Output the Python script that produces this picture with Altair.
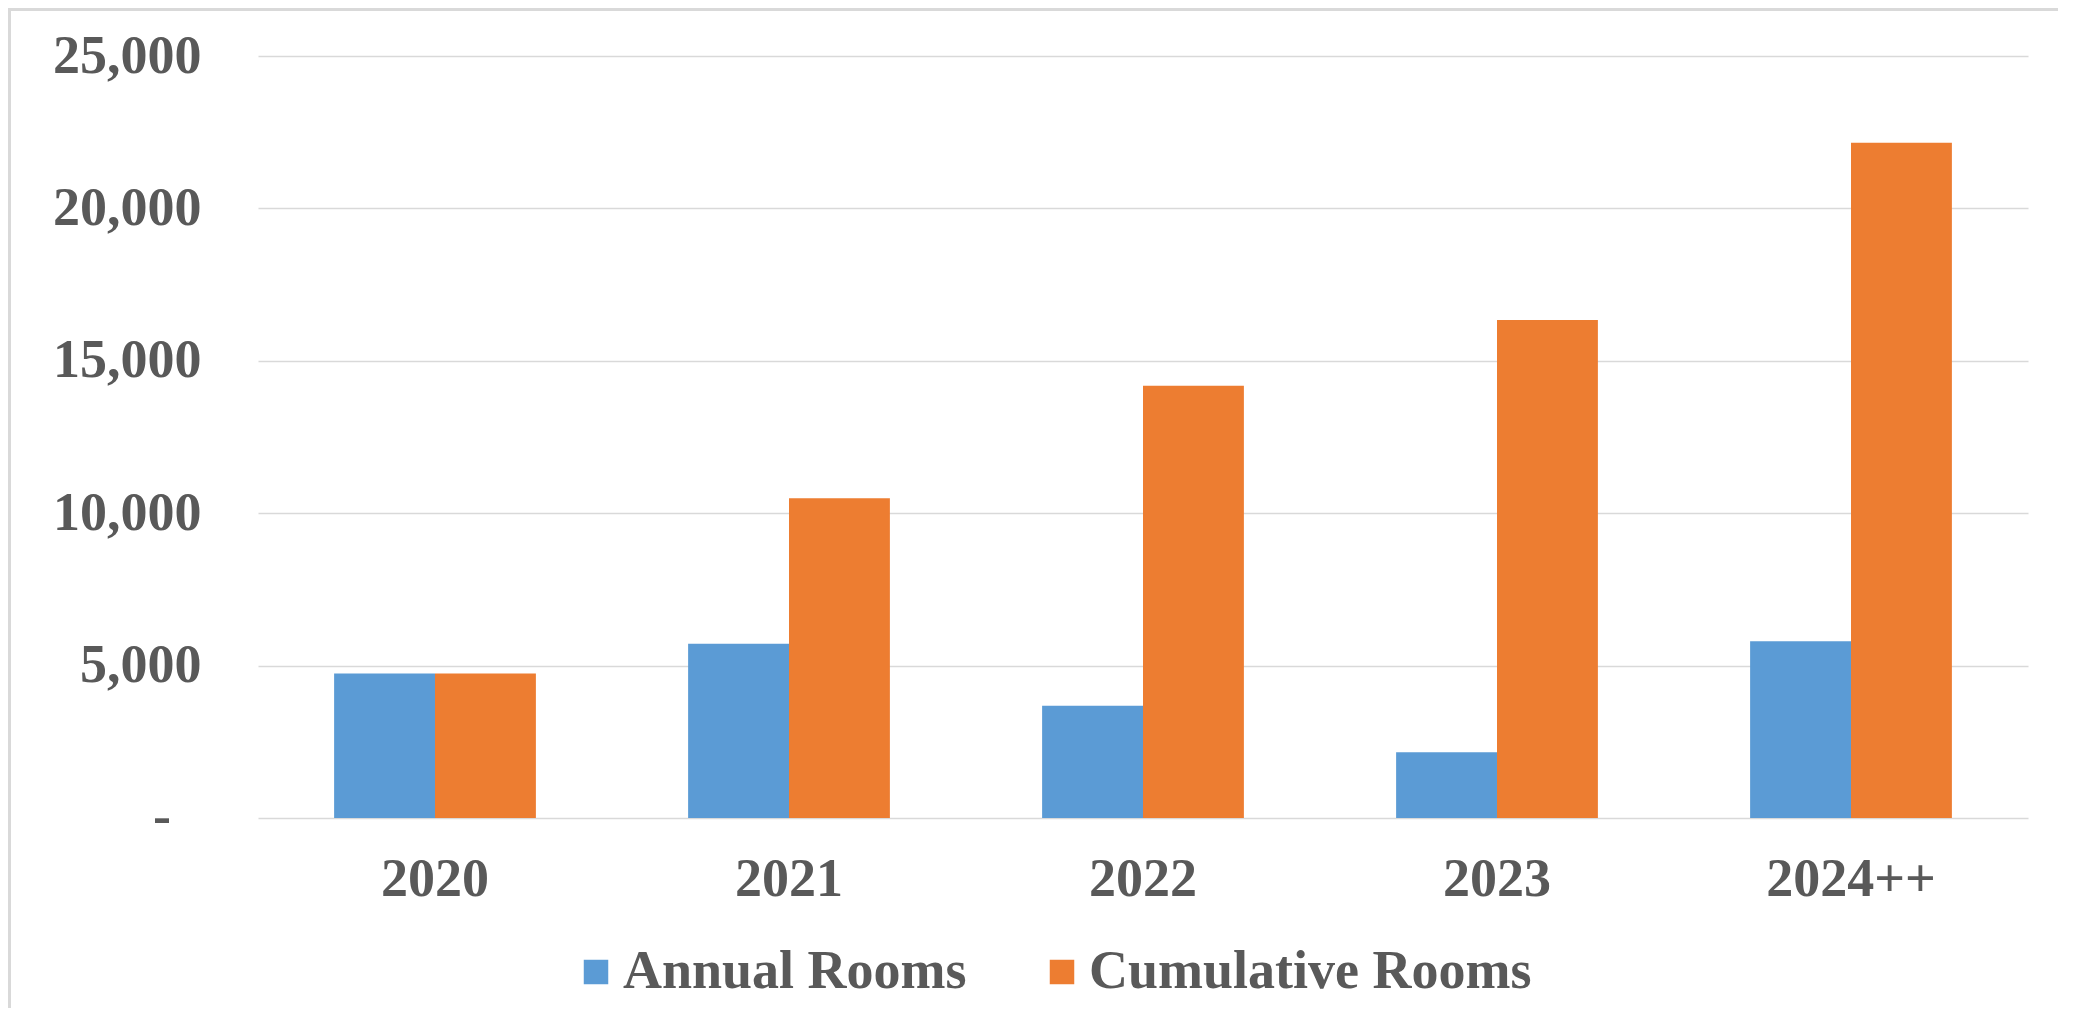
import altair as alt
import pandas as pd

years = ["2020", "2021", "2022", "2023", "2024++"]
annual_rooms = [4740, 5720, 3680, 2160, 5800]
cumulative_rooms = [4740, 10490, 14185, 16340, 22150]
series_names = ["Annual Rooms", "Cumulative Rooms"]
series_colors = ["#5B9BD5", "#ED7D31"]
y_ticks = [0, 5000, 10000, 15000, 20000, 25000]
zero_label = [{"rooms": 0, "label": "-"}]

rows = []
for i, yr in enumerate(years):
    rows.append({"year": yr, "series": series_names[0], "rooms": annual_rooms[i]})
    rows.append({"year": yr, "series": series_names[1], "rooms": cumulative_rooms[i]})
df = pd.DataFrame(rows)

FONT = "Liberation Serif"
TEXT = "#595959"
GRID = "#D9D9D9"
FS = 54

PW, PH = 1770, 762
PAD = {"left": 250, "top": 48, "right": 30, "bottom": 190}

bars = alt.Chart(df).mark_bar().encode(
    x=alt.X(
        "year:N",
        sort=years,
        scale=alt.Scale(paddingInner=0.43, paddingOuter=0.215),
        axis=alt.Axis(
            title=None, labelAngle=0, ticks=False, tickSize=0, domain=False, grid=False,
            labelPadding=34, labelFontSize=FS, labelFont=FONT, labelFontWeight="bold",
            labelColor=TEXT, labelLimit=600,
        ),
    ),
    xOffset=alt.XOffset("series:N", sort=series_names),
    y=alt.Y(
        "rooms:Q",
        scale=alt.Scale(domain=[0, 25000], nice=False),
        axis=alt.Axis(
            title=None, values=y_ticks, ticks=False, tickSize=0, domain=False,
            labelExpr="datum.value == 0 ? '' : format(datum.value, ',')",
            labelPadding=57, labelFontSize=FS, labelFont=FONT, labelFontWeight="bold",
            labelColor=TEXT, labelLimit=600, gridColor=GRID, gridWidth=1.5,
        ),
    ),
    color=alt.Color(
        "series:N",
        sort=series_names,
        scale=alt.Scale(domain=series_names, range=series_colors),
        legend=alt.Legend(
            title=None, orient="none", legendX=311, legendY=889, direction="horizontal",
            symbolType="square", symbolSize=600, symbolStrokeWidth=0, symbolOpacity=1,
            labelFontSize=FS, labelFont=FONT, labelFontWeight="bold", labelColor=TEXT,
            labelOffset=0, columnPadding=68, padding=0, labelLimit=1000,
        ),
    ),
)

zero_text = alt.Chart(alt.Data(values=zero_label)).mark_text(
    font=FONT, fontSize=FS, fontWeight="bold", color=TEXT, align="right", baseline="middle"
).encode(
    y=alt.Y("rooms:Q"),
    x=alt.value(-87),
    text="label:N",
)

one = alt.Data(values=[{"k": 1}])
frame_left = alt.Chart(one).mark_rule(color=GRID, strokeWidth=3).encode(
    x=alt.value(-PAD["left"] + 1.5),
    y=alt.value(-PAD["top"]),
    y2=alt.value(PH + PAD["bottom"]),
)
frame_top = alt.Chart(one).mark_rule(color=GRID, strokeWidth=3).encode(
    x=alt.value(-PAD["left"]),
    x2=alt.value(PW + PAD["right"]),
    y=alt.value(-PAD["top"] + 1.5),
)

chart = alt.layer(bars, zero_text, frame_left, frame_top).properties(
    width=PW,
    height=PH,
    autosize=alt.AutoSizeParams(type="none"),
    padding=PAD,
    background="white",
).configure_view(strokeWidth=0)

chart.save("out.html", embed_options={"renderer": "svg", "actions": False})
